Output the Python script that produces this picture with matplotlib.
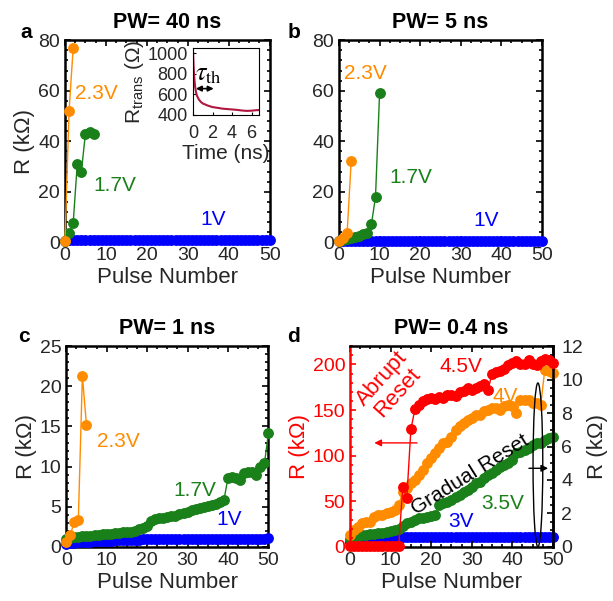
import numpy as np
import matplotlib.pyplot as plt
from matplotlib.patches import Ellipse
from matplotlib.ticker import AutoMinorLocator, MultipleLocator

plt.rcParams['font.family'] = ['Liberation Sans', 'DejaVu Sans']
plt.rcParams['mathtext.fontset'] = 'custom'
plt.rcParams['mathtext.rm'] = 'Liberation Sans'
plt.rcParams['mathtext.it'] = 'Liberation Sans:italic'

ORANGE = '#ff8c00'
GREEN = '#1a801a'
BLUE = '#0000ff'
RED = '#ff0000'
TXT = '#262626'

pulses = list(range(51))

# panel a, PW = 40 ns
a_x23 = [0, 1, 2]
a_23 = [0.5, 52, 77]
a_x17 = [0, 1, 2, 3, 4, 5, 6, 7]
a_17 = [0.5, 3.5, 7.5, 31, 28, 43, 43.5, 43]
a_1 = [0.6, 0.7, 0.8, 0.8, 0.9, 0.9, 0.9, 0.9, 0.9, 0.9,
       0.9, 0.9, 0.9, 0.9, 0.9, 0.9, 0.9, 0.9, 0.9, 0.9,
       0.9, 0.9, 0.9, 0.9, 0.9, 0.9, 0.9, 0.9, 0.9, 0.9,
       0.9, 0.9, 0.9, 0.9, 0.9, 0.9, 0.9, 0.9, 0.9, 0.9,
       0.9, 0.9, 0.9, 0.9, 0.9, 0.9, 0.9, 0.9, 0.9, 0.9, 0.9]

# inset: transient resistance
t_ns = [0, 0.05, 0.1, 0.2, 0.3, 0.4, 0.6, 0.8, 1.0, 1.5, 2.0, 2.5, 3.0, 3.5, 4.0, 4.5, 5.0, 5.5, 6.0, 6.5, 6.8]
r_trans = [1000, 880, 780, 680, 620, 585, 548, 525, 510, 490, 475, 468, 460, 456, 452, 448, 442, 438, 440, 445, 446]

# panel b, PW = 5 ns
b_x23 = [0, 1, 2, 3]
b_23 = [0.5, 1.5, 3.5, 32]
b_x17 = [0, 1, 2, 3, 4, 5, 6, 7, 8, 9, 10]
b_17 = [0.5, 0.8, 1.2, 1.6, 2.0, 2.5, 3.3, 3.8, 7.2, 18, 59]
b_1 = [0.4, 0.5, 0.5, 0.5, 0.5, 0.5, 0.5, 0.5, 0.5, 0.5,
       0.5, 0.5, 0.5, 0.5, 0.5, 0.5, 0.5, 0.5, 0.5, 0.5,
       0.5, 0.5, 0.5, 0.5, 0.5, 0.5, 0.5, 0.5, 0.5, 0.5,
       0.5, 0.5, 0.5, 0.5, 0.5, 0.5, 0.5, 0.5, 0.5, 0.5,
       0.5, 0.5, 0.5, 0.5, 0.5, 0.5, 0.5, 0.5, 0.5, 0.5, 0.5]

# panel c, PW = 1 ns
c_x23 = [0, 1, 2, 3, 4, 5]
c_23 = [0.6, 1.5, 3.1, 3.4, 21.3, 15.2]
c_17 = [1.0, 1.1, 1.2, 1.25, 1.3, 1.35, 1.4, 1.45, 1.5, 1.55,
        1.6, 1.65, 1.7, 1.75, 1.8, 1.85, 1.9, 2.0, 2.2, 2.4,
        2.6, 3.2, 3.5, 3.6, 3.65, 3.7, 3.8, 3.9, 4.1, 4.2,
        4.4, 4.6, 4.7, 4.9, 5.0, 5.1, 5.2, 5.4, 5.6, 5.9,
        8.6, 8.7, 8.6, 8.3, 9.2, 9.3, 9.3, 8.9, 10.0, 10.4, 14.2]
c_1 = [0.4, 0.45, 0.5, 0.55, 0.6, 0.62, 0.65, 0.68, 0.7, 0.72,
       0.75, 0.77, 0.8, 0.82, 0.84, 0.86, 0.88, 0.9, 0.92, 0.94,
       0.95, 0.96, 0.97, 0.98, 0.98, 0.99, 0.99, 1.0, 1.0, 1.0,
       1.0, 1.0, 1.0, 1.0, 1.0, 1.0, 1.0, 1.0, 1.0, 1.0,
       1.0, 1.0, 1.0, 1.0, 1.0, 1.0, 1.0, 1.0, 1.0, 1.0, 1.1]

# panel d, PW = 0.4 ns (4.5V on left axis, others on right axis)
d_45 = [1.0, 1.0, 0.8, 1.0, 1.2, 1.0, 0.8, 1.0, 1.0, 1.2,
        1.0, 1.0, 1.5, 66, 54, 129, 151, 155, 160, 162,
        163, 162, 164, 163, 166, 167, 165, 170, 171, 174,
        172, 174, 176, 178, 172, 190, 192, 193, 195, 199,
        202, 204, 200, 201, 205, 201, 199, 204, 206, 205, 202]
d_4 = [0.7, 1.0, 1.2, 1.4, 1.5, 1.5, 1.8, 1.9, 1.9, 2.0,
       2.1, 2.2, 2.5, 3.3, 3.5, 3.8, 4.0, 4.3, 4.6, 5.0,
       5.3, 5.6, 5.9, 6.2, 6.3, 6.6, 7.0, 7.2, 7.4, 7.6,
       7.7, 7.9, 7.9, 8.1, 8.2, 8.3, 8.3, 8.2, 8.4, 8.5,
       8.4, 8.0, 8.8, 8.8, 8.8, 8.6, 8.6, 8.5, 10.6, 10.5, 10.4]
d_35 = [0.5, 0.6, 0.65, 0.7, 0.72, 0.75, 0.8, 0.82, 0.85, 0.9,
        0.95, 1.0, 1.1, 1.25, 1.4, 1.5, 1.6, 1.7, 1.75, 1.8,
        1.85, 1.9, 2.5, 2.6, 2.7, 2.8, 3.0, 3.1, 3.3, 3.4,
        3.6, 3.8, 3.9, 4.1, 4.3, 4.4, 4.6, 4.8, 4.9, 5.0,
        5.2, 5.6, 5.7, 5.8, 5.9, 6.1, 6.2, 6.2, 6.4, 6.5, 6.6]
d_3 = [0.3, 0.3, 0.32, 0.33, 0.35, 0.36, 0.38, 0.4, 0.4, 0.42,
       0.43, 0.45, 0.5, 0.6, 0.6, 0.6, 0.6, 0.6, 0.6, 0.6,
       0.6, 0.6, 0.6, 0.6, 0.6, 0.6, 0.6, 0.6, 0.6, 0.6,
       0.6, 0.6, 0.6, 0.6, 0.6, 0.6, 0.6, 0.6, 0.6, 0.6,
       0.6, 0.6, 0.6, 0.6, 0.6, 0.6, 0.6, 0.6, 0.6, 0.6, 0.6]


def series(ax, x, y, color):
    ax.plot(x, y, '-o', color=color, lw=1.0, ms=6.8, mec=color, clip_on=False, zorder=3)


def style(ax, ymajor, title):
    ax.set_xlim(0, 50)
    ax.xaxis.set_major_locator(MultipleLocator(10))
    ax.yaxis.set_major_locator(MultipleLocator(ymajor))
    ax.xaxis.set_minor_locator(AutoMinorLocator(4))
    ax.yaxis.set_minor_locator(AutoMinorLocator(5))
    ax.tick_params(which='both', direction='in', top=True, right=True, labelsize=14,
                   labelcolor=TXT, width=1.2)
    ax.tick_params(which='major', length=4)
    ax.tick_params(which='minor', length=2.5)
    for s in ax.spines.values():
        s.set_linewidth(1.8)
    ax.set_xlabel('Pulse Number', fontsize=16, color=TXT, labelpad=2)
    ax.set_title(title, fontsize=15.5, fontweight='bold', pad=9)


fig = plt.figure(figsize=(6.13, 6.01), dpi=100)

# ---- a
ax_a = fig.add_axes([0.106, 0.597, 0.334, 0.336])
series(ax_a, pulses, a_1, BLUE)
series(ax_a, a_x17, a_17, GREEN)
series(ax_a, a_x23, a_23, ORANGE)
ax_a.set_ylim(0, 80)
style(ax_a, 20, 'PW= 40 ns')
ax_a.set_ylabel('R (kΩ)', fontsize=16, color=TXT, labelpad=2)
ax_a.text(2.4, 59, '2.3V', color=ORANGE, fontsize=15, va='center')
ax_a.text(7.0, 22.5, '1.7V', color=GREEN, fontsize=15, va='center')
ax_a.text(33, 9, '1V', color=BLUE, fontsize=15, va='center')

ins = fig.add_axes([0.315, 0.809, 0.108, 0.111])
ins.plot(t_ns, r_trans, color='#b0163f', lw=1.5)
ins.set_xlim(0, 6.8)
ins.set_ylim(400, 1050)
ins.set_xticks([0, 2, 4, 6])
ins.set_yticks([400, 600, 800, 1000])
ins.tick_params(direction='in', labelsize=13, labelcolor=TXT, length=2)
ins.tick_params(axis='x', pad=7)
ins.tick_params(axis='y', pad=4)
ins.set_xlabel('Time (ns)', fontsize=15, color=TXT, labelpad=2)
ins.set_ylabel('R$_{\\mathrm{trans}}$ (Ω)', fontsize=15, color=TXT, labelpad=1)
ins.annotate('', xy=(0.0, 655), xytext=(2.4, 655),
             arrowprops=dict(arrowstyle='<|-|>', color='black', lw=1.2, mutation_scale=8))
ins.text(0.15, 800, '$\\tau_{\\mathrm{th}}$', fontsize=19, va='center', color='black',
         math_fontfamily='stix')

# ---- b
ax_b = fig.add_axes([0.553, 0.597, 0.331, 0.336])
series(ax_b, pulses, b_1, BLUE)
series(ax_b, b_x17, b_17, GREEN)
series(ax_b, b_x23, b_23, ORANGE)
ax_b.set_ylim(0, 80)
style(ax_b, 20, 'PW= 5 ns')
ax_b.text(1.3, 67, '2.3V', color=ORANGE, fontsize=15, va='center')
ax_b.text(12.5, 25.5, '1.7V', color=GREEN, fontsize=15, va='center')
ax_b.text(33, 8.7, '1V', color=BLUE, fontsize=15, va='center')

# ---- c
ax_c = fig.add_axes([0.108, 0.090, 0.330, 0.334])
series(ax_c, pulses, c_1, BLUE)
series(ax_c, pulses, c_17, GREEN)
series(ax_c, c_x23, c_23, ORANGE)
ax_c.set_ylim(0, 25)
style(ax_c, 5, 'PW= 1 ns')
ax_c.set_ylabel('R (kΩ)', fontsize=16, color=TXT, labelpad=2)
ax_c.text(7.5, 13.1, '2.3V', color=ORANGE, fontsize=15, va='center')
ax_c.text(26.5, 7.0, '1.7V', color=GREEN, fontsize=15, va='center')
ax_c.text(37.2, 3.4, '1V', color=BLUE, fontsize=15, va='center')

# ---- d
ax_d = fig.add_axes([0.571, 0.090, 0.331, 0.334])
ax_r = ax_d.twinx()
series(ax_d, pulses, d_45, RED)
series(ax_r, pulses, d_3, BLUE)
series(ax_r, pulses, d_35, GREEN)
series(ax_r, pulses, d_4, ORANGE)
ax_d.set_ylim(0, 220)
ax_r.set_ylim(0, 12)
style(ax_d, 50, 'PW= 0.4 ns')
ax_d.tick_params(axis='y', which='both', right=False, colors=RED, labelcolor=RED)
ax_d.spines['left'].set_color(RED)
ax_d.set_ylabel('R (kΩ)', fontsize=16, color=RED, labelpad=2)
ax_r.yaxis.set_major_locator(MultipleLocator(2))
ax_r.yaxis.set_minor_locator(AutoMinorLocator(4))
ax_r.tick_params(which='both', direction='in', labelsize=14, labelcolor=TXT, width=1.2)
ax_r.tick_params(which='major', length=4, pad=6)
ax_r.tick_params(which='minor', length=2.5)
ax_r.spines['right'].set_linewidth(1.8)
ax_r.spines['left'].set_visible(False)
ax_r.set_ylabel('R (kΩ)', fontsize=16, color=TXT, labelpad=3)
ax_d.set_zorder(ax_r.get_zorder() + 1)
ax_d.patch.set_visible(False)

ax_d.text(9.8, 177, 'Abrupt\nReset', color=RED, fontsize=16, rotation=48,
          ha='center', va='center', linespacing=1.0)
ax_d.text(22, 198, '4.5V', color=RED, fontsize=15, va='center')
ax_r.text(35.2, 9.0, '4V', color=ORANGE, fontsize=15, va='center')
ax_r.text(32.4, 2.6, '3.5V', color=GREEN, fontsize=15, va='center')
ax_r.text(24.2, 1.5, '3V', color=BLUE, fontsize=15, va='center')
ax_r.text(29.5, 4.3, 'Gradual Reset', color='black', fontsize=15, rotation=32,
          ha='center', va='center')
ax_d.annotate('', xy=(5.3, 114), xytext=(17.2, 114),
              arrowprops=dict(arrowstyle='-|>', color=RED, lw=1.0, mutation_scale=10))
ax_r.annotate('', xy=(49.5, 4.7), xytext=(43.4, 4.7),
              arrowprops=dict(arrowstyle='-|>', color='black', lw=1.0, mutation_scale=10))
ax_r.add_patch(Ellipse((46.3, 4.9), 2.4, 9.8, fill=False, ec='black', lw=1.0, zorder=5))

for lab, x, y in [('a', 26, 32), ('b', 294, 32), ('c', 24, 337), ('d', 294, 337)]:
    fig.text(x / 613, 1 - y / 601, lab, fontsize=15, fontweight='bold', ha='center', va='center')

fig.savefig('out.png', dpi=100)
